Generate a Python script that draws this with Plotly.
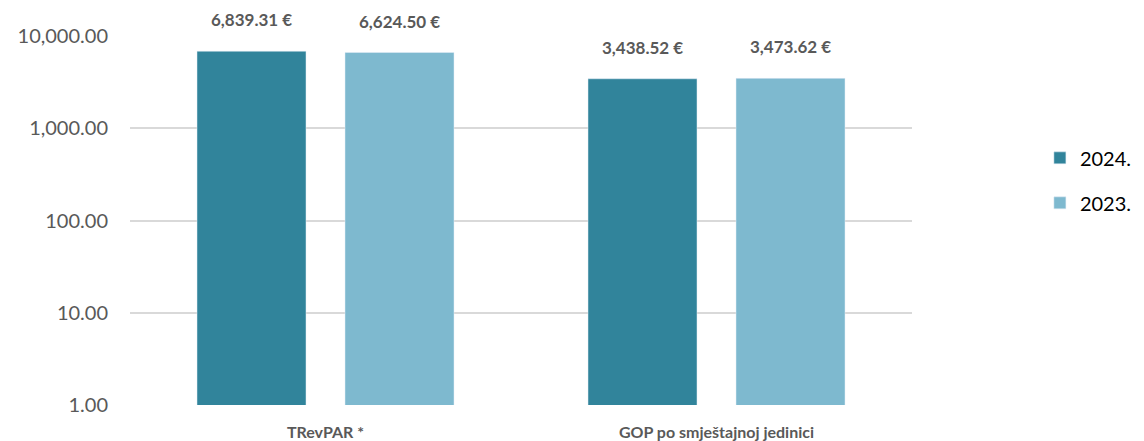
import math
import plotly.graph_objects as go

categories = ["TRevPAR *", "GOP po smještajnoj jedinici"]
series_names = ["2024.", "2023."]
values_2024 = [6839.31, 3438.52]
values_2023 = [6624.50, 3473.62]
tick_values = [1, 10, 100, 1000, 10000]

colors = ["#31849B", "#7EB9CF"]
W, H = 1144, 441
margin = dict(l=130, r=232, t=36, b=36)
bargap, bargroupgap = 0.243, 0.2635

fig = go.Figure()
for i, (name, vals) in enumerate(zip(series_names, [values_2024, values_2023])):
    fig.add_trace(go.Bar(
        x=categories, y=vals, name=name, marker_color=colors[i],
        legendgroup=name, hoverinfo="skip",
    ))

# value labels sitting above each bar
plot_w = W - margin["l"] - margin["r"]
slot = plot_w / len(categories) * (1 - bargap) / 2
for i, vals in enumerate([values_2024, values_2023]):
    for cat, v in zip(categories, vals):
        fig.add_annotation(
            x=cat, y=math.log10(v), xref="x", yref="y",
            text=f"<b>{v:,.2f} €</b>", showarrow=False,
            xshift=(i - 0.5) * slot, yshift=19, yanchor="bottom",
            font=dict(family="Lato", size=17, color="#595959"),
        )

fig.update_layout(
    width=W, height=H, margin=margin,
    paper_bgcolor="white", plot_bgcolor="white",
    bargap=bargap, bargroupgap=bargroupgap,
    font=dict(family="Lato", color="#595959"),
    legend=dict(x=0.909, xanchor="left", xref="container",
                y=0.591, yanchor="middle", yref="container",
                font=dict(size=20, color="#000000"), tracegroupgap=16,
                itemwidth=30),
    showlegend=True,
)
fig.update_yaxes(
    type="log", range=[0, 4], tickvals=tick_values, tickformat=",.2f",
    showgrid=True, gridcolor="#D9D9D9", gridwidth=1.5,
    zeroline=False, showline=False, ticks="", automargin=False,
    tickfont=dict(family="Lato", size=20, color="#595959"), ticklabelstandoff=21,
)
fig.update_xaxes(
    showline=False, ticks="", ticklabelstandoff=16, automargin=False,
    tickfont=dict(family="Lato", size=16, color="#595959", weight="bold"),
)
fig.write_html("out.html")
